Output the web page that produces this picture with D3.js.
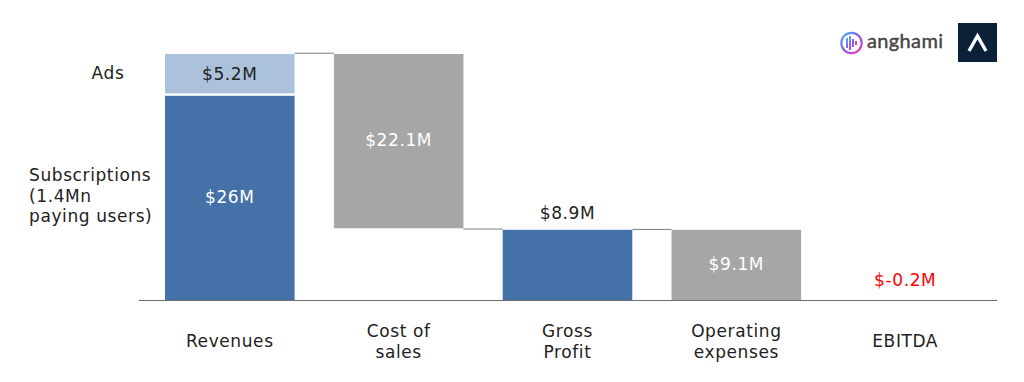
<!DOCTYPE html>
<html><head><meta charset="utf-8">
<script src="https://cdn.jsdelivr.net/npm/d3@7"></script>
<style>html,body{margin:0;padding:0;background:#fff}svg{display:block}</style>
</head><body><div id="c"></div>
<script>
const categories = ["Revenues","Cost of sales","Gross Profit","Operating expenses","EBITDA"];
const categoryLines = [["Revenues"],["Cost of","sales"],["Gross","Profit"],["Operating","expenses"],["EBITDA"]];
const barStarts = [0, 9.1, 0, 0];
const barEnds = [25.9, 31.2, 8.9, 8.9];
const barCats = ["Revenues","Cost of sales","Gross Profit","Operating expenses"];
const barKinds = ["blue","grey","blue","grey"];
const adsStart = 26.2, adsEnd = 31.2;
const valueLabels = ["$26M","$22.1M","$8.9M","$9.1M","$-0.2M"];
const adsLabel = "$5.2M";
const connectorLevels = [31.3, 9.0, 8.95];
const sideLabels = {ads:["Ads"], subs:["Subscriptions","(1.4Mn","paying users)"]};

const W=1024,H=382;
const svg=d3.select("#c").append("svg").attr("width",W).attr("height",H);
const x=d3.scaleBand().domain(categories).range([145.6,989.4]).paddingInner(0.2326).paddingOuter(0.115);
const y=d3.scaleLinear().domain([0,31.2]).range([300,54]);
const fill={blue:"#4471a8",grey:"#a6a6a6"};

svg.append("g").selectAll("rect").data(barCats).join("rect")
 .attr("x",d=>x(d)).attr("width",x.bandwidth())
 .attr("y",(d,i)=>y(barEnds[i])).attr("height",(d,i)=>y(barStarts[i])-y(barEnds[i]))
 .attr("fill",(d,i)=>fill[barKinds[i]]);
svg.append("rect").attr("x",x("Revenues")).attr("width",x.bandwidth())
 .attr("y",y(adsEnd)).attr("height",y(adsStart)-y(adsEnd)).attr("fill","#abc1dc");

svg.append("g").selectAll("line").data(connectorLevels).join("line")
 .attr("x1",(d,i)=>x(barCats[i])+x.bandwidth()).attr("x2",(d,i)=>x(barCats[i+1]))
 .attr("y1",d=>y(d)).attr("y2",d=>y(d)).attr("stroke","#7f7f7f").attr("stroke-width",1);

svg.append("line").attr("x1",139).attr("x2",997).attr("y1",300.5).attr("y2",300.5).attr("stroke","#6f6f6f").attr("stroke-width",1.2);

const fs=17, face="DejaVu Sans, Verdana, sans-serif";
function lab(tx,ty,t,col,anchor){return svg.append("text").attr("x",tx).attr("y",ty).attr("text-anchor",anchor||"middle").attr("font-size",fs).attr("font-family",face).attr("letter-spacing",0.6).attr("fill",col||"#222").text(t);}
const cx=c=>x(c)+x.bandwidth()/2;
lab(cx("Revenues"),80,adsLabel,"#222");
lab(cx("Revenues"),203,valueLabels[0],"#fff");
lab(cx("Cost of sales"),146,valueLabels[1],"#fff");
lab(cx("Gross Profit"),219,valueLabels[2],"#222");
lab(cx("Operating expenses"),270,valueLabels[3],"#fff");
lab(cx("EBITDA"),286,valueLabels[4],"#ff0000");

categories.forEach((c,i)=>{
  const ls=categoryLines[i];
  const ty=ls.length===1?347:337;
  ls.forEach((t,j)=>lab(cx(c),ty+j*20.5,t,"#222"));
});
lab(108,79,sideLabels.ads[0],"#222");
sideLabels.subs.forEach((t,j)=>lab(29,181+j*20.5,t,"#222","start"));

// brand marks
const defs=svg.append("defs");
const g=defs.append("linearGradient").attr("id","ring").attr("x1",0).attr("y1",0).attr("x2",1).attr("y2",1);
g.append("stop").attr("offset","0").attr("stop-color","#4fb6f2");
g.append("stop").attr("offset","0.5").attr("stop-color","#8a5cf0");
g.append("stop").attr("offset","1").attr("stop-color","#f23fb0");
svg.append("circle").attr("cx",851.5).attr("cy",43).attr("r",10.2).attr("fill","none").attr("stroke","url(#ring)").attr("stroke-width",2.2);
svg.append("path").attr("d","M847 38v10M850 36v14M853 39v8M856 41v4").attr("stroke","url(#ring)").attr("stroke-width",2).attr("fill","none");
svg.append("text").attr("x",867).attr("y",48).attr("font-size",20).attr("fill","#444").attr("stroke","#444").attr("stroke-width",0.4).attr("font-family","Lato, sans-serif").attr("textLength",76).text("anghami");
svg.append("rect").attr("x",958).attr("y",23).attr("width",39).attr("height",39).attr("fill","#0c2038");
svg.append("path").attr("d","M969 51L977.5 36L986 51").attr("fill","none").attr("stroke","#fff").attr("stroke-width",3.4);
</script></body></html>
